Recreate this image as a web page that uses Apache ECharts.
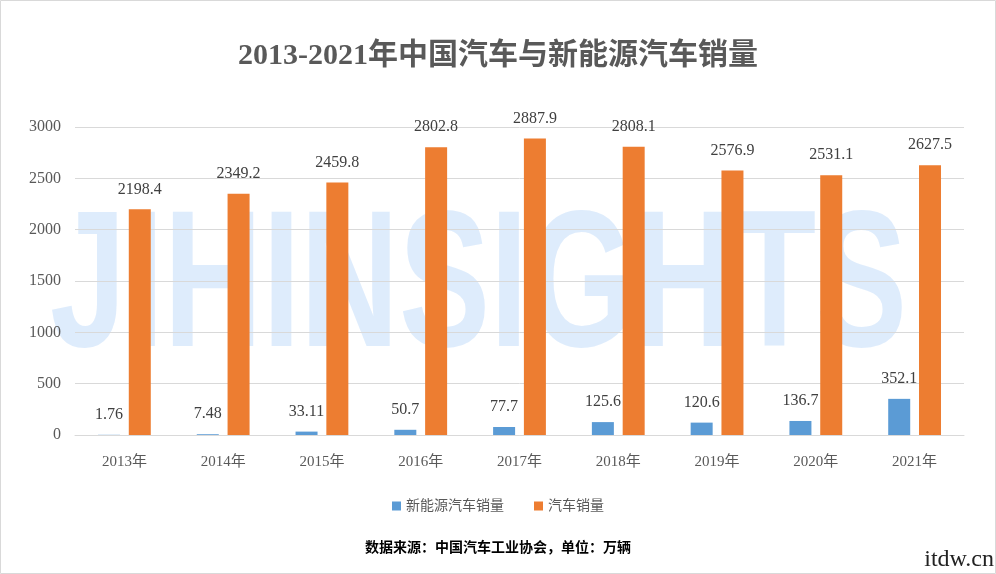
<!DOCTYPE html>
<html><head><meta charset="utf-8">
<script src="https://cdn.jsdelivr.net/npm/echarts@6/dist/echarts.min.js"></script>
<style>html,body{margin:0;padding:0;background:#fff}#main{width:996px;height:574px}</style>
</head><body><div id="main"></div>
<script>
let years = ["2013年","2014年","2015年","2016年","2017年","2018年","2019年","2020年","2021年"];
let nevSales = [1.76, 7.48, 33.11, 50.7, 77.7, 125.6, 120.6, 136.7, 352.1];
let carSales = [2198.4, 2349.2, 2459.8, 2802.8, 2887.9, 2808.1, 2576.9, 2531.1, 2627.5];
let fontFam = "'Liberation Serif','Noto Sans CJK SC',serif";

let myChart = echarts.init(document.getElementById("main"));
let option = {
  textStyle: { fontFamily: fontFam },
  title: {
    text: "2013-2021年中国汽车与新能源汽车销量",
    left: "center",
    top: 36,
    textStyle: { fontSize: 30, fontWeight: "bold", color: "#595959", fontFamily: fontFam },
  },
  graphic: [
    {
      type: "text", x: 50, y: 195, scaleX: 0.7, z: 0, silent: true,
      style: { text: "JIHINSIGHTS", fontSize: 195, fontWeight: "bold", fontFamily: "'Liberation Sans',sans-serif", fill: "rgba(160,200,245,0.35)" },
    },
    {
      type: "text", left: "center", top: 541,
      style: { text: "数据来源：中国汽车工业协会，单位：万辆", fontSize: 14, fontWeight: "bold", fontFamily: fontFam, fill: "#000" },
    },
    {
      type: "text", right: 2, top: 548,
      style: { text: "itdw.cn", fontSize: 24, fontFamily: fontFam, fill: "#222" },
    },
    {
      type: "rect", shape: { x: 0.5, y: 0.5, width: 995, height: 573 },
      style: { fill: "none", stroke: "#d9d9d9" }, silent: true,
    },
  ],
  legend: {
    bottom: 56,
    icon: "rect",
    itemWidth: 9, itemHeight: 9, itemGap: 30,
    textStyle: { fontSize: 14, color: "#595959", fontFamily: fontFam },
    data: ["新能源汽车销量", "汽车销量"],
  },
  grid: { left: 75, right: 32, top: 127, bottom: 139, containLabel: false },
  xAxis: {
    type: "category",
    data: years,
    axisTick: { show: false },
    axisLine: { lineStyle: { color: "#d9d9d9" } },
    axisLabel: { fontSize: 15, color: "#595959", margin: 20 },
  },
  yAxis: {
    type: "value",
    min: 0, max: 3000, interval: 500,
    axisLabel: { fontSize: 16, color: "#595959", margin: 14, formatter: (v) => String(v) },
    splitLine: { lineStyle: { color: "#d9d9d9" } },
  },
  series: [
    {
      type: "bar", name: "新能源汽车销量", data: nevSales,
      barWidth: 22, barGap: "40%",
      itemStyle: { color: "#5B9BD5" },
      label: { show: true, position: "top", fontSize: 16, color: "#404040", distance: 12 },
    },
    {
      type: "bar", name: "汽车销量", data: carSales,
      barWidth: 22,
      itemStyle: { color: "#ED7D31" },
      label: { show: true, position: "top", fontSize: 16, color: "#404040", distance: 12 },
    },
  ],
};
myChart.setOption(option);
</script></body></html>
